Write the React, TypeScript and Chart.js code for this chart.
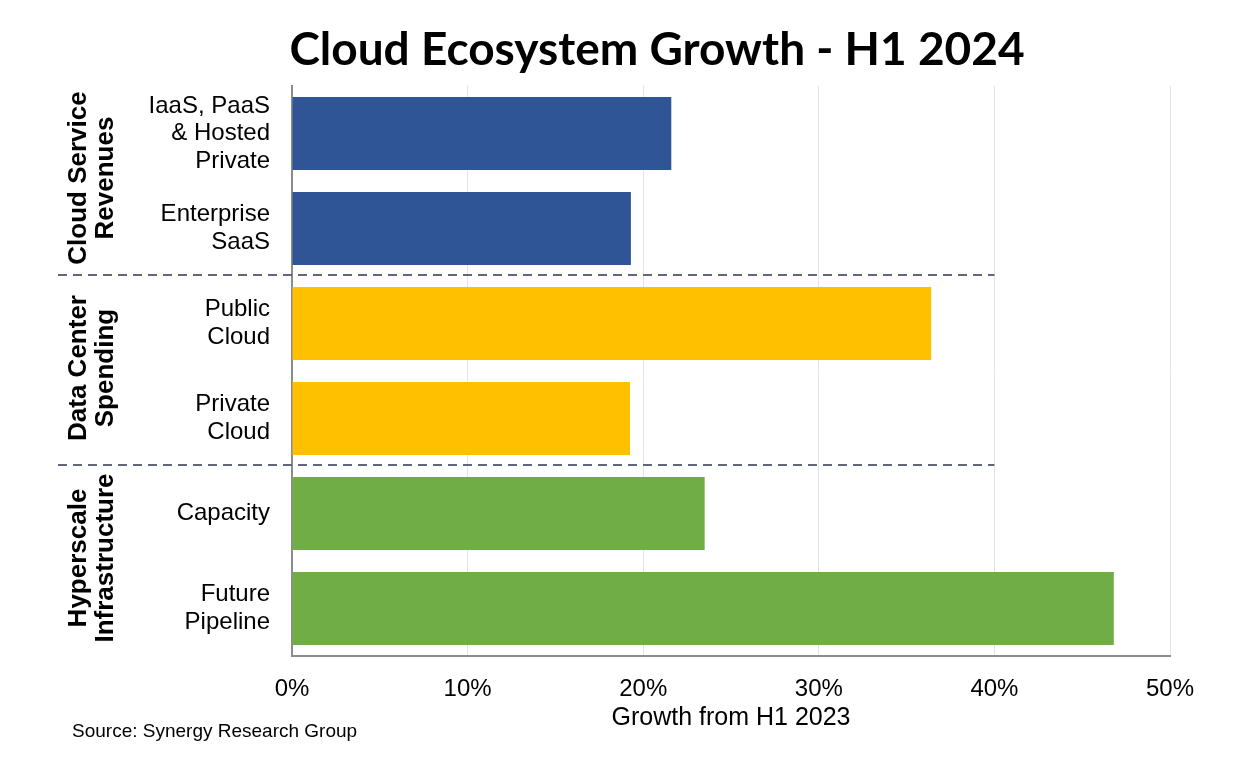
import React, { useEffect, useRef } from "react";
import { Chart, registerables } from "chart.js";

Chart.register(...registerables);

const TITLE = "Cloud Ecosystem Growth - H1 2024";
const SOURCE = "Source: Synergy Research Group";
const X_TITLE = "Growth from H1 2023";

const CATEGORIES: string[][] = [
  ["IaaS, PaaS", "& Hosted", "Private"],
  ["Enterprise", "SaaS"],
  ["Public", "Cloud"],
  ["Private", "Cloud"],
  ["Capacity"],
  ["Future", "Pipeline"],
];
const VALUES = [21.6, 19.3, 36.4, 19.25, 23.5, 46.8];
const BAR_COLORS = ["#2f5597", "#2f5597", "#ffc000", "#ffc000", "#70ad47", "#70ad47"];

const GROUPS: string[][] = [
  ["Cloud Service", "Revenues"],
  ["Data Center", "Spending"],
  ["Hyperscale", "Infrastructure"],
];
const GROUP_RANGES: number[][] = [
  [0, 1],
  [2, 3],
  [4, 5],
];
const SEPARATORS = [1.5, 3.5];
const X_TICKS = [0, 10, 20, 30, 40, 50];

const W = 1233;
const H = 762;

export default function App() {
  const ref = useRef<HTMLCanvasElement | null>(null);

  useEffect(() => {
    if (!ref.current) return;
    const overlay = {
      id: "overlay",
      afterDraw(chart: any) {
        const ctx = chart.ctx;
        const xs = chart.scales.x;
        const ys = chart.scales.y;
        ctx.save();
        // title
        ctx.fillStyle = "#000";
        ctx.font = "bold 46px Lato";
        ctx.textAlign = "center";
        ctx.textBaseline = "alphabetic";
        ctx.fillText(TITLE, 657, 65);
        // separators
        ctx.strokeStyle = "#5f6778";
        ctx.lineWidth = 2;
        ctx.setLineDash([9, 6]);
        SEPARATORS.forEach((s) => {
          const y = Math.round(ys.getPixelForValue(s)) - 1;
          ctx.beginPath();
          ctx.moveTo(58, y);
          ctx.lineTo(xs.getPixelForValue(40), y);
          ctx.stroke();
        });
        ctx.setLineDash([]);
        // group labels
        ctx.font = "bold 26px 'Liberation Sans'";
        ctx.textAlign = "center";
        ctx.textBaseline = "middle";
        GROUPS.forEach((lines, i) => {
          const [a, b] = GROUP_RANGES[i];
          const yc = (ys.getPixelForValue(a) + ys.getPixelForValue(b)) / 2 - 3;
          ctx.save();
          ctx.translate(92, yc);
          ctx.rotate(-Math.PI / 2);
          const lh = 27;
          lines.forEach((t, j) => {
            ctx.fillText(t, 0, (j - (lines.length - 1) / 2) * lh);
          });
          ctx.restore();
        });
        // source
        ctx.font = "19px 'Liberation Sans'";
        ctx.textAlign = "left";
        ctx.textBaseline = "middle";
        ctx.fillText(SOURCE, 72, 732);
        ctx.restore();
      },
    };

    const chart = new Chart(ref.current, {
      type: "bar",
      data: {
        labels: CATEGORIES,
        datasets: [
          {
            data: VALUES,
            backgroundColor: BAR_COLORS,
            borderWidth: 0,
            barPercentage: 0.77,
            categoryPercentage: 1,
          },
        ],
      },
      options: {
        indexAxis: "y",
        animation: false,
        responsive: false,
        maintainAspectRatio: false,
        layout: { padding: { left: 0, top: 86, right: 63, bottom: 0 } },
        plugins: {
          legend: { display: false },
          title: { display: false },
          tooltip: { enabled: false },
        },
        scales: {
          x: {
            min: 0,
            max: 50,
            afterBuildTicks: (scale: any) => {
              scale.ticks = X_TICKS.map((v) => ({ value: v }));
            },
            afterFit: (scale: any) => {
              scale.height = 106;
            },
            ticks: {
              callback: (v: any) => v + "%",
              color: "#000",
              font: { family: "'Liberation Sans'", size: 24 },
              padding: 19,
              maxRotation: 0,
            },
            grid: { color: "#e3e3e3", lineWidth: 1, drawTicks: false },
            border: { display: true, color: "#8c8c8c", width: 2 },
            title: {
              display: true,
              text: X_TITLE,
              color: "#000",
              font: { family: "'Liberation Sans'", size: 25 },
              padding: { top: 0, bottom: 29 },
            },
          },
          y: {
            afterFit: (scale: any) => {
              scale.width = 292;
            },
            ticks: {
              color: "#000",
              font: { family: "'Liberation Sans'", size: 24, lineHeight: 1.15 },
              padding: 22,
              autoSkip: false,
            },
            grid: { display: false, drawTicks: false },
            border: { display: true, color: "#8c8c8c", width: 2 },
          },
        },
      },
      plugins: [overlay],
    } as any);
    return () => chart.destroy();
  }, []);

  return (
    <div style={{ position: "fixed", left: 0, top: 0, width: W, height: H, background: "#fff" }}>
      <canvas ref={ref} width={W} height={H} style={{ width: W, height: H, display: "block" }} />
    </div>
  );
}
